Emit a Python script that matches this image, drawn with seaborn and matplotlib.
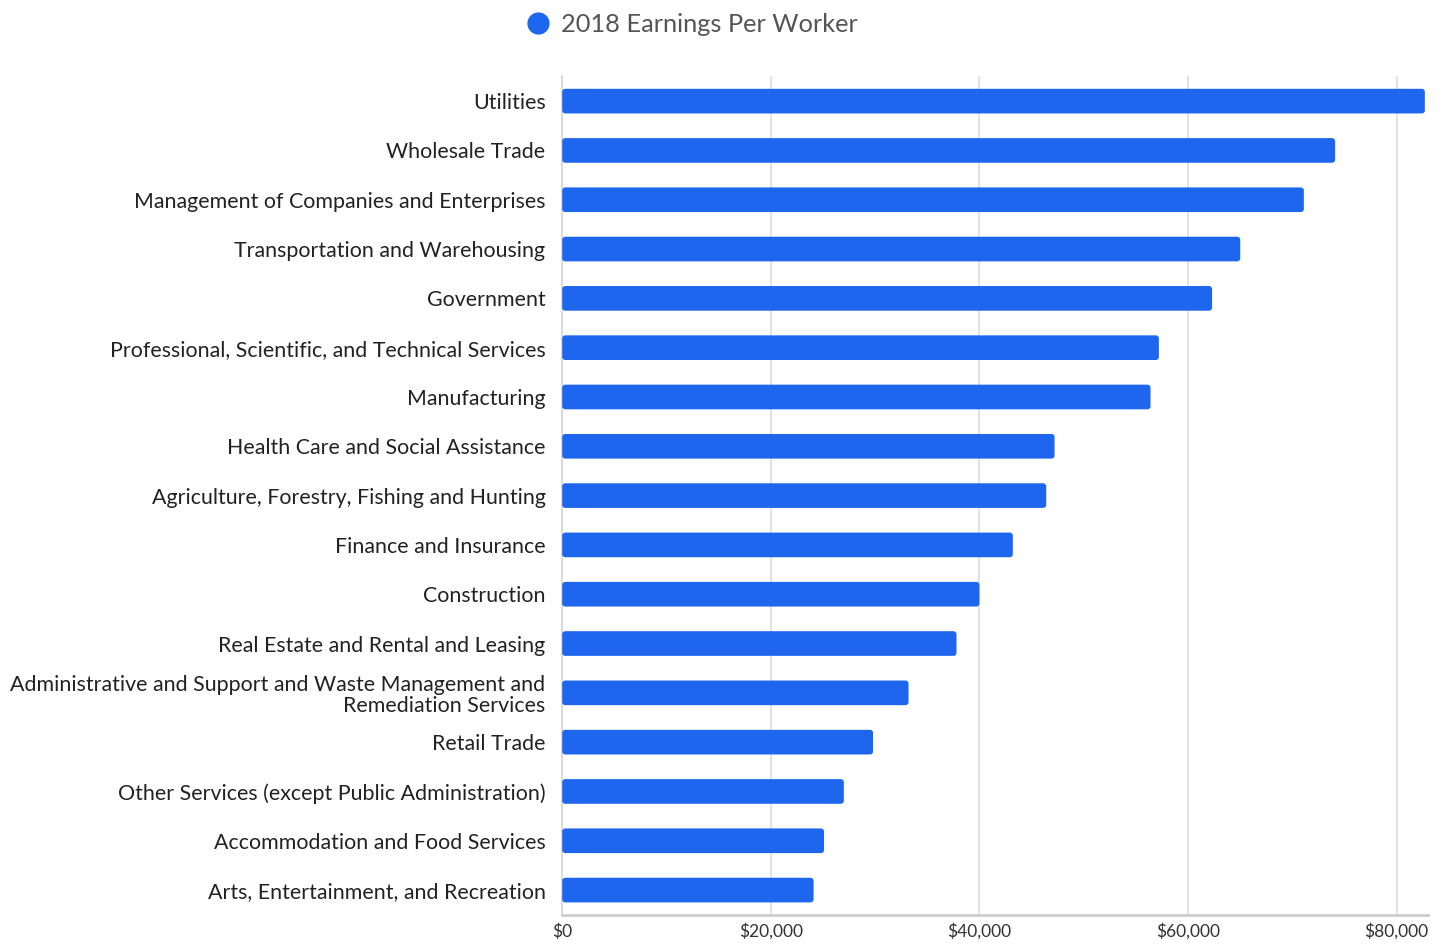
import pandas as pd
import numpy as np
import seaborn as sns
import matplotlib.pyplot as plt
from matplotlib.lines import Line2D
from matplotlib.patches import FancyBboxPatch
from matplotlib.ticker import FuncFormatter

industries = [
    'Utilities',
    'Wholesale Trade',
    'Management of Companies and Enterprises',
    'Transportation and Warehousing',
    'Government',
    'Professional, Scientific, and Technical Services',
    'Manufacturing',
    'Health Care and Social Assistance',
    'Agriculture, Forestry, Fishing and Hunting',
    'Finance and Insurance',
    'Construction',
    'Real Estate and Rental and Leasing',
    'Administrative and Support and Waste Management and\nRemediation Services',
    'Retail Trade',
    'Other Services (except Public Administration)',
    'Accommodation and Food Services',
    'Arts, Entertainment, and Recreation',
]
earnings = [82700, 74100, 71100, 65000, 62300, 57200, 56400, 47200, 46400,
            43200, 40000, 37800, 33200, 29800, 27000, 25100, 24100]
x_ticks = [0, 20000, 40000, 60000, 80000]

data = pd.DataFrame({'Industry': industries, 'Earnings': earnings})

sns.set_style('white')
plt.rcParams['font.family'] = ['Lato', 'DejaVu Sans']

bar_color = '#1E66EE'

fig = plt.figure(figsize=(14.49, 9.44), dpi=100)
ax = fig.add_axes([0.388, 0.031, 0.5975, 0.888])

sns.barplot(data=data, x='Earnings', y='Industry', color=bar_color,
            width=0.5, saturation=1, ax=ax)

# swap plain rectangles for slightly rounded ones
for p in list(ax.patches):
    x0, y0 = p.get_x(), p.get_y()
    w, h = p.get_width(), p.get_height()
    fb = FancyBboxPatch((x0, y0), w, h,
                        boxstyle='round,pad=0,rounding_size=300',
                        mutation_aspect=0.0002,
                        facecolor=bar_color, edgecolor='none', zorder=3)
    p.remove()
    ax.add_patch(fb)

ax.set_xlim(0, 83000)
ax.set_ylim(len(industries) - 0.5, -0.5)
ax.set_xticks(x_ticks)
ax.xaxis.set_major_formatter(FuncFormatter(lambda v, _: f'${v:,.0f}'))
ax.grid(axis='x', color='#dddddd', linewidth=1.2, zorder=0)
ax.set_axisbelow(True)
ax.set_xlabel('')
ax.set_ylabel('')

for s in ['top', 'right']:
    ax.spines[s].set_visible(False)
ax.spines['left'].set_color('#d6d6d6')
ax.spines['left'].set_linewidth(1.2)
ax.spines['bottom'].set_color('#cccccc')
ax.spines['bottom'].set_linewidth(2)

ax.tick_params(axis='y', length=0, pad=12, labelsize=15.4, labelcolor='#222222')
ax.tick_params(axis='x', length=0, pad=6, labelsize=12.5, labelcolor='#333333')
for lbl in ax.get_yticklabels():
    lbl.set_linespacing(1.05)

handle = Line2D([], [], marker='o', linestyle='none', markersize=15,
                markerfacecolor=bar_color, markeredgecolor=bar_color)
fig.legend([handle], ['2018 Earnings Per Worker'], loc='center',
           bbox_to_anchor=(0.4765, 0.974), frameon=False, fontsize=18.3,
           labelcolor='#555555', handletextpad=0.3, handlelength=1.2)

plt.savefig('out.png', dpi=100)
